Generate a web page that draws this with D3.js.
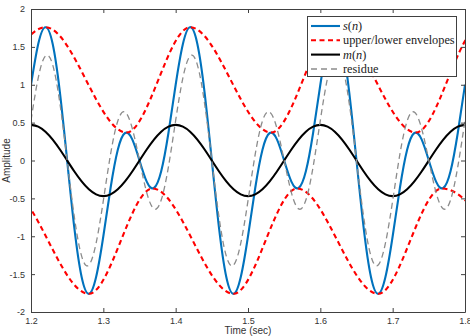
<!DOCTYPE html>
<html><head><meta charset="utf-8">
<script src="https://cdn.jsdelivr.net/npm/d3@7"></script>
<style>body{margin:0;background:#fff}svg{display:block}</style>
</head><body><svg id="c" width="470" height="336"></svg>
<script>
// ---- data ----
const time = [1.20,1.21,1.22,1.23,1.24,1.25,1.26,1.27,1.28,1.29,1.30,1.31,1.32,1.33,1.34,1.35,1.36,1.37,1.38,1.39,
  1.40,1.41,1.42,1.43,1.44,1.45,1.46,1.47,1.48,1.49,1.50,1.51,1.52,1.53,1.54,1.55,1.56,1.57,1.58,1.59,
  1.60,1.61,1.62,1.63,1.64,1.65,1.66,1.67,1.68,1.69,1.70,1.71,1.72,1.73,1.74,1.75,1.76,1.77,1.78,1.79,1.80];
const signal = [1.000,1.539,1.760,1.539,0.897,0.000,-0.897,-1.539,-1.760,-1.539,-1.000,-0.363,0.142,0.363,0.279,0.000,-0.279,-0.363,-0.142,0.363,
  1.000,1.539,1.760,1.539,0.897,0.000,-0.897,-1.539,-1.760,-1.539,-1.000,-0.363,0.142,0.363,0.279,0.000,-0.279,-0.363,-0.142,0.363,
  1.000,1.539,1.760,1.539,0.897,0.000,-0.897,-1.539,-1.760,-1.539,-1.000,-0.363,0.142,0.363,0.279,0.000,-0.279,-0.363,-0.142,0.363,1.000];
const meanEnv = [0.470,0.447,0.380,0.276,0.145,0.000,-0.145,-0.276,-0.380,-0.447,-0.470,-0.447,-0.380,-0.276,-0.145,0.000,0.145,0.276,0.380,0.447,
  0.470,0.447,0.380,0.276,0.145,0.000,-0.145,-0.276,-0.380,-0.447,-0.470,-0.447,-0.380,-0.276,-0.145,0.000,0.145,0.276,0.380,0.447,
  0.470,0.447,0.380,0.276,0.145,0.000,-0.145,-0.276,-0.380,-0.447,-0.470,-0.447,-0.380,-0.276,-0.145,0.000,0.145,0.276,0.380,0.447,0.470];
const residue = [0.530,1.092,1.380,1.263,0.752,0.000,-0.752,-1.263,-1.380,-1.092,-0.530,0.084,0.522,0.639,0.424,0.000,-0.424,-0.639,-0.522,-0.084,
  0.530,1.092,1.380,1.263,0.752,0.000,-0.752,-1.263,-1.380,-1.092,-0.530,0.084,0.522,0.639,0.424,0.000,-0.424,-0.639,-0.522,-0.084,
  0.530,1.092,1.380,1.263,0.752,0.000,-0.752,-1.263,-1.380,-1.092,-0.530,0.084,0.522,0.639,0.424,0.000,-0.424,-0.639,-0.522,-0.084,0.530];
const upperT = [1.132,1.220,1.332,1.420,1.532,1.620,1.732,1.820,1.932];
const upperV = [0.369,1.760,0.369,1.760,0.369,1.760,0.369,1.760,0.369];
const lowerT = [1.080,1.168,1.280,1.368,1.480,1.568,1.680,1.768,1.880];
const lowerV = [-1.760,-0.369,-1.760,-0.369,-1.760,-0.369,-1.760,-0.369,-1.760];
const xTicks = [1.2,1.3,1.4,1.5,1.6,1.7,1.8];
const xTickLabels = ["1.2","1.3","1.4","1.5","1.6","1.7","1.8"];
const yTicks = [-2,-1.5,-1,-0.5,0,0.5,1,1.5,2];
const yTickLabels = ["-2","-1.5","-1","-0.5","0","0.5","1","1.5","2"];
const legendNames = ["s(n)","upper/lower envelopes","m(n)","residue"];

// ---- drawing ----
const svg = d3.select("#c");
const L = 31, R = 465, T = 9, B = 312;
const x = d3.scaleLinear().domain([1.2, 1.8]).range([L, R]);
const y = d3.scaleLinear().domain([-2, 2]).range([B, T]);
const axisColor = "#404040";
const tickFont = "'Liberation Sans', Arial, Helvetica, sans-serif";

svg.append("defs").append("clipPath").attr("id","clip")
  .append("rect").attr("x",L).attr("y",T).attr("width",R-L).attr("height",B-T);

const g = svg.append("g").attr("clip-path","url(#clip)");
const line = d3.line().curve(d3.curveNatural);
const envLine = d3.line().curve(d3.curveMonotoneX);

const sPts = time.map((t,i)=>[x(t), y(signal[i])]);
const mPts = time.map((t,i)=>[x(t), y(meanEnv[i])]);
const rPts = time.map((t,i)=>[x(t), y(residue[i])]);
const uPts = upperT.map((t,i)=>[x(t), y(upperV[i])]);
const lPts = lowerT.map((t,i)=>[x(t), y(lowerV[i])]);

const styles = [
  {stroke:"#0072BD", width:2.1, dash:null},
  {stroke:"#FF0000", width:2.1, dash:"5,3.5"},
  {stroke:"#000000", width:2.1, dash:null},
  {stroke:"#8C8C8C", width:1.3, dash:"6,4"}
];
function drawPath(pts, st, gen){
  g.append("path").attr("d", (gen||line)(pts)).attr("fill","none")
    .attr("stroke", st.stroke).attr("stroke-width", st.width)
    .attr("stroke-dasharray", st.dash);
}
drawPath(sPts, styles[0]);
drawPath(uPts, styles[1], envLine);
drawPath(lPts, styles[1], envLine);
drawPath(mPts, styles[2]);
drawPath(rPts, styles[3]);

// axes
function styleAxis(sel){
  sel.selectAll("path").attr("stroke", axisColor).attr("stroke-width",1);
  sel.selectAll("line").attr("stroke", axisColor).attr("stroke-width",1);
  sel.selectAll("text").attr("fill","#333").attr("font-family",tickFont).attr("font-size","9px");
}
const xb = svg.append("g").attr("transform",`translate(0,${B})`)
  .call(d3.axisBottom(x).tickValues(xTicks).tickFormat((d,i)=>xTickLabels[i]).tickSizeInner(-4).tickSizeOuter(0).tickPadding(6));
styleAxis(xb);
const xt = svg.append("g").attr("transform",`translate(0,${T})`)
  .call(d3.axisTop(x).tickValues(xTicks).tickFormat("").tickSizeInner(-4).tickSizeOuter(0));
styleAxis(xt);
const yl = svg.append("g").attr("transform",`translate(${L},0)`)
  .call(d3.axisLeft(y).tickValues(yTicks).tickFormat((d,i)=>yTickLabels[i]).tickSizeInner(-4).tickSizeOuter(0).tickPadding(6));
styleAxis(yl);
const yr = svg.append("g").attr("transform",`translate(${R},0)`)
  .call(d3.axisRight(y).tickValues(yTicks).tickFormat("").tickSizeInner(-4).tickSizeOuter(0));
styleAxis(yr);

svg.append("text").attr("x",(L+R)/2).attr("y",334).attr("text-anchor","middle")
  .attr("font-family",tickFont).attr("font-size","10px").attr("fill","#333").text("Time (sec)");
svg.append("text").attr("transform",`translate(10,${(T+B)/2}) rotate(-90)`).attr("text-anchor","middle")
  .attr("font-family",tickFont).attr("font-size","10px").attr("fill","#333").text("Amplitude");

// legend
const lg = svg.append("g");
lg.append("rect").attr("x",307.5).attr("y",16.5).attr("width",149).attr("height",60)
  .attr("fill","#fff").attr("stroke",axisColor).attr("stroke-width",1);
const rowY = [26, 40.3, 54.6, 69];
const serif = "'Liberation Serif','Times New Roman',serif";
legendNames.forEach((name,i)=>{
  const st = styles[i];
  lg.append("line").attr("x1",311).attr("x2",340).attr("y1",rowY[i]).attr("y2",rowY[i])
    .attr("stroke",st.stroke).attr("stroke-width",st.width).attr("stroke-dasharray",st.dash);
  const t = lg.append("text").attr("x",343).attr("y",rowY[i]+4).attr("font-family",serif)
    .attr("font-size","12.3px").attr("fill","#222");
  const m = name.match(/^(\w)\((\w)\)$/);
  if (m) {
    t.append("tspan").attr("font-style","italic").text(m[1]);
    t.append("tspan").text("(");
    t.append("tspan").attr("font-style","italic").text(m[2]);
    t.append("tspan").text(")");
  } else t.text(name);
});
</script></body></html>
